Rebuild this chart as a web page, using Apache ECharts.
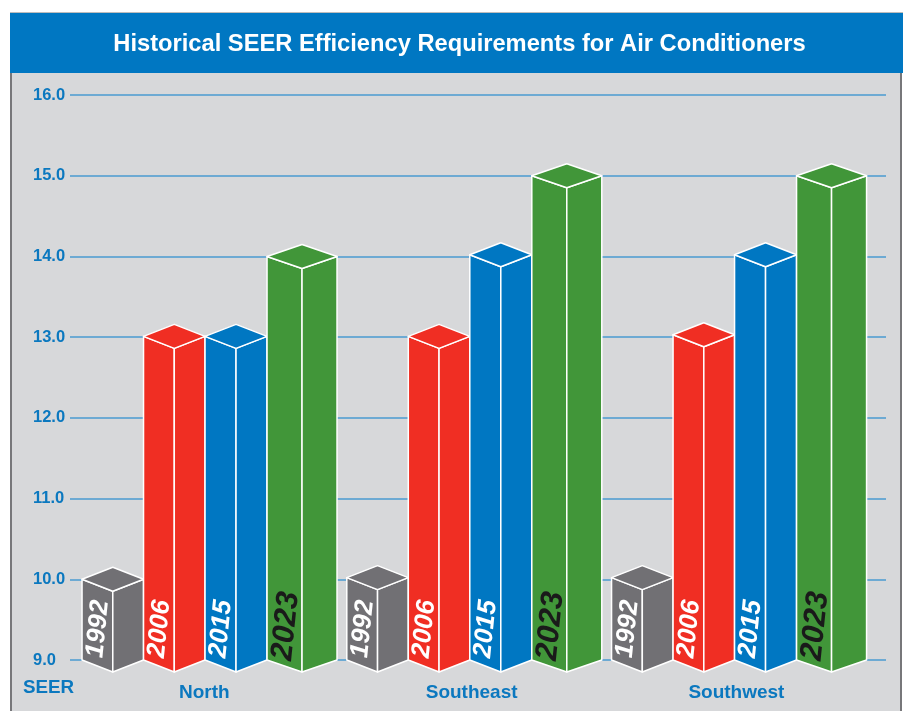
<!DOCTYPE html>
<html>
<head>
<meta charset="utf-8">
<style>
html, body { margin: 0; padding: 0; background: #fff; }
#chart { width: 908px; height: 711px; }
</style>
<script src="https://cdn.jsdelivr.net/npm/echarts@6/dist/echarts.min.js"></script>
</head>
<body>
<div id="chart"></div>
<script>
var regions = ['North', 'Southeast', 'Southwest'];
var regionLabelAt = [-0.02, 0.99, 1.99];
var yTicks = [9, 16];
var s1992 = [10, 10.02, 10.02];
var s2006 = [13.01, 13.01, 13.03];
var s2015 = [13.01, 14.02, 14.02];
var s2023 = [14, 15, 15];

var myChart = echarts.init(document.getElementById('chart'));

// x = left edge offset from group centre, w = width, in px
function box(year, color, textColor, fontSize, x, w, textX, textY) {
	return function(params, api) {
		var top = api.coord([api.value(0), api.value(1)]);
		var base = api.coord([api.value(0), yTicks[0]]);
		var x0 = top[0] + x, x1 = x0 + w, xm = x0 + w / 2, d = 12;
		var stroke = { stroke: '#fff', lineWidth: 1.5, lineJoin: 'round', fill: color };
		return {
			type: 'group',
			children: [{
				type: 'polygon',
				shape: { points: [[x0, top[1]], [xm, top[1] + d], [xm, base[1] + d], [x0, base[1]]] },
				style: stroke
			}, {
				type: 'polygon',
				shape: { points: [[xm, top[1] + d], [x1, top[1]], [x1, base[1]], [xm, base[1] + d]] },
				style: stroke
			}, {
				type: 'polygon',
				shape: { points: [[x0, top[1]], [xm, top[1] - d], [x1, top[1]], [xm, top[1] + d]] },
				style: stroke
			}, {
				type: 'text',
				x: x0 + textX,
				y: textY,
				rotation: 1.47,
				style: {
					text: year,
					fill: textColor,
					font: 'italic bold ' + fontSize + 'px "Liberation Sans"',
					align: 'center',
					verticalAlign: 'middle'
				}
			}]
		};
	};
}

function pairs(values) {
	return values.map(function(v, i) { return [i, v]; });
}

var option = {
	animation: false,
	textStyle: { fontFamily: '"Liberation Sans"' },
	graphic: [
		{ type: 'rect', z: -2, shape: { x: 10, y: 73, width: 892, height: 638 }, style: { fill: '#d7d8da' } },
		{ type: 'rect', z: -1, shape: { x: 10, y: 73, width: 2, height: 638 }, style: { fill: '#77777a' } },
		{ type: 'rect', z: -1, shape: { x: 900, y: 73, width: 2, height: 638 }, style: { fill: '#77777a' } },
		{ type: 'rect', z: -1, shape: { x: 10, y: 12, width: 893, height: 1 }, style: { fill: '#bdbdbd' } },
		{ type: 'rect', z: -1, shape: { x: 10, y: 13, width: 893, height: 60 }, style: { fill: '#0077c2' } },
		{ type: 'text', x: 23, y: 678, style: { text: 'SEER', fill: '#0b78bf', font: 'bold 18.8px "Liberation Sans"' } }
	],
	title: {
		text: 'Historical SEER Efficiency Requirements for Air Conditioners',
		left: 454.5,
		top: 27,
		textAlign: 'center',
		textStyle: { color: '#fff', fontSize: 23.7, fontWeight: 'bold', fontFamily: '"Liberation Sans"' }
	},
	grid: { left: 70, right: 22, top: 95, bottom: 51 },
	xAxis: {
		type: 'value',
		min: -0.527,
		max: 2.555,
		splitLine: { show: false },
		axisLine: { show: false },
		axisTick: { show: false },
		axisLabel: {
			customValues: regionLabelAt,
			margin: 23,
			color: '#0b78bf',
			fontSize: 19,
			fontWeight: 'bold',
			formatter: function(v) {
				return regions[regionLabelAt.indexOf(v)];
			}
		}
	},
	yAxis: {
		type: 'value',
		min: yTicks[0],
		max: yTicks[1],
		interval: 1,
		axisLine: { show: false },
		axisTick: { show: false },
		splitLine: { lineStyle: { color: '#4a9bd1', width: 1.5 } },
		axisLabel: {
			align: 'left',
			margin: 37,
			color: '#0b78bf',
			fontSize: 16.5,
			fontWeight: 'bold',
			formatter: function(v) { return v.toFixed(1); }
		}
	},
	series: [
		{ name: '1992', type: 'custom', data: pairs(s1992), renderItem: box('1992', '#717074', '#fff', 26, -127.5, 61.5, 16, 629) },
		{ name: '2006', type: 'custom', data: pairs(s2006), renderItem: box('2006', '#f02e23', '#fff', 26, -66, 61.5, 16, 629) },
		{ name: '2015', type: 'custom', data: pairs(s2015), renderItem: box('2015', '#0077c2', '#fff', 26, -4.5, 62, 16, 629) },
		{ name: '2023', type: 'custom', data: pairs(s2023), renderItem: box('2023', '#419639', '#1a1a1a', 31, 57.5, 70, 19, 626) }
	]
};

myChart.setOption(option);
</script>
</body>
</html>
